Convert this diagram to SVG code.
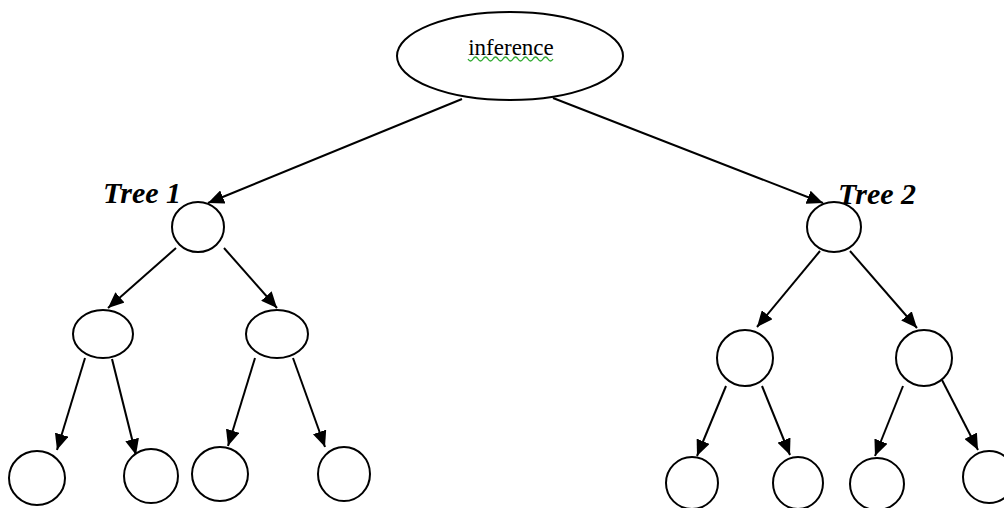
<svg xmlns="http://www.w3.org/2000/svg" width="1004" height="508" viewBox="0 0 1004 508">
<style>
.n{fill:#fff;stroke:#000;stroke-width:2}
.e{stroke:#000;stroke-width:2;fill:none;marker-end:url(#ah)}
.lbl{font-family:"Liberation Serif",serif;font-weight:bold;font-style:italic;font-size:30px;fill:#000}
.t{font-family:"Liberation Serif",serif;font-size:23px;fill:#000}
</style>
<defs>
<marker id="ah" markerUnits="userSpaceOnUse" markerWidth="18" markerHeight="14" refX="16" refY="7" orient="auto" viewBox="0 0 18 14">
<path d="M0,0 L16,7 L0,14 Z" fill="#000"/>
</marker>
</defs>
<rect width="1004" height="508" fill="#fff"/>
<g id="connectors">
<line class="e" x1="462" y1="99" x2="208" y2="203"/>
<line class="e" x1="553" y1="98" x2="823" y2="203"/>
<line class="e" x1="176" y1="248" x2="108" y2="308"/>
<line class="e" x1="224" y1="248" x2="277" y2="308"/>
<line class="e" x1="85" y1="358" x2="57" y2="450"/>
<line class="e" x1="112" y1="359" x2="136" y2="455"/>
<line class="e" x1="255" y1="358" x2="228" y2="446"/>
<line class="e" x1="293" y1="358" x2="325" y2="447"/>
<line class="e" x1="820" y1="251" x2="757" y2="327"/>
<line class="e" x1="850" y1="251" x2="917" y2="328"/>
<line class="e" x1="726" y1="386" x2="697" y2="456"/>
<line class="e" x1="762" y1="386" x2="790" y2="455"/>
<line class="e" x1="903" y1="386" x2="875" y2="456"/>
<line class="e" x1="942" y1="380" x2="978" y2="450"/>
</g>
<g id="inference">
<ellipse class="n" cx="510" cy="56" rx="113" ry="44"/>
<text class="t" x="511" y="55" text-anchor="middle">inference</text>
<path d="M468,59 q2.5,4 5,0 t5,0 t5,0 t5,0 t5,0 t5,0 t5,0 t5,0 t5,0 t5,0 t5,0 t5,0 t5,0 t5,0 t5,0 t5,0 t5,0" fill="none" stroke="#3a3" stroke-width="1.4"/>
</g>
<g id="tree1-label"><text class="lbl" x="103" y="203">Tree 1</text></g>
<g id="tree2-label"><text class="lbl" x="838" y="204">Tree 2</text></g>
<g id="t1-root"><ellipse class="n" cx="198" cy="227" rx="26" ry="25"/></g>
<g id="t1-l"><ellipse class="n" cx="103" cy="334" rx="30" ry="24"/></g>
<g id="t1-r"><ellipse class="n" cx="277" cy="334" rx="31" ry="24"/></g>
<g id="t1-ll"><ellipse class="n" cx="37" cy="478" rx="28" ry="27"/></g>
<g id="t1-lr"><ellipse class="n" cx="151" cy="476" rx="27" ry="27"/></g>
<g id="t1-rl"><ellipse class="n" cx="220" cy="474" rx="28" ry="27"/></g>
<g id="t1-rr"><ellipse class="n" cx="344" cy="474" rx="26" ry="27"/></g>
<g id="t2-root"><ellipse class="n" cx="834" cy="227" rx="27" ry="25"/></g>
<g id="t2-l"><ellipse class="n" cx="745" cy="358" rx="28" ry="28"/></g>
<g id="t2-r"><ellipse class="n" cx="924" cy="358" rx="28" ry="28"/></g>
<g id="t2-ll"><ellipse class="n" cx="692" cy="483" rx="26" ry="26"/></g>
<g id="t2-lr"><ellipse class="n" cx="798" cy="483" rx="25" ry="26"/></g>
<g id="t2-rl"><ellipse class="n" cx="877" cy="484" rx="27" ry="26"/></g>
<g id="t2-rr"><ellipse class="n" cx="989" cy="477" rx="26" ry="26"/></g>
</svg>
